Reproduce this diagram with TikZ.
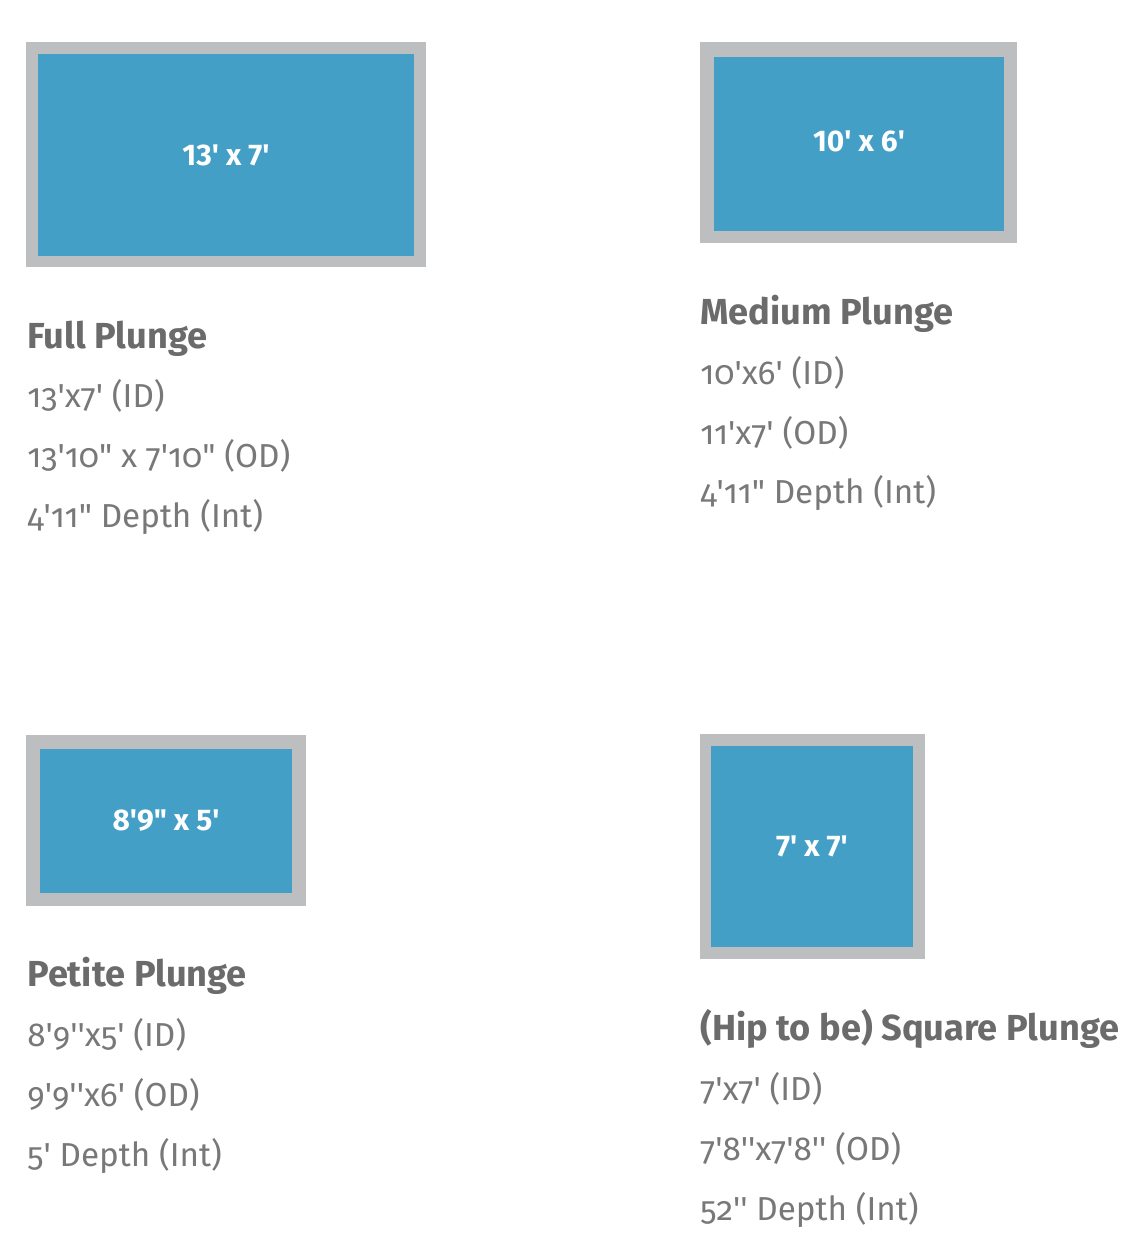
\documentclass[tikz,border=0pt]{standalone}
\usepackage{fontspec}
\setmainfont{Fira Sans}[Numbers=OldStyle]
\newfontfamily\tagfont{Fira Sans}
\usepackage{tikz}

\definecolor{poolblue}{HTML}{449FC7}
\definecolor{poolrim}{HTML}{BDBEC0}
\definecolor{headgray}{HTML}{6B6B6B}
\definecolor{textgray}{HTML}{787878}
\newcommand{\ftm}{\textquotesingle}
\newcommand{\inm}{\textquotedbl}

\tikzset{
  rim/.style={fill=poolrim},
  water/.style={fill=poolblue},
  tag/.style={text=white, inner sep=0, font=\tagfont\bfseries\fontsize{17}{19}\selectfont},
  title/.style={anchor=base west, inner sep=0, text=headgray, font=\bfseries\fontsize{20.6}{23}\selectfont},
  spec/.style={anchor=base west, inner sep=0, text=textgray, font=\fontsize{18.9}{22}\selectfont},
}

\begin{document}
\begin{tikzpicture}[x=0.02cm, y=-0.02cm]
\useasboundingbox[fill=white] (0,0) rectangle (1128,1251);

% pools
\fill[rim] (26,42) rectangle (426,267);
\fill[water] (38,54) rectangle (414,256);
\node[tag] (fullTag) at (226,155) {13\ftm{} x 7\ftm};

\fill[rim] (700,42) rectangle (1017,243);
\fill[water] (714,57) rectangle (1004,231);
\node[tag] (medTag) at (859,141) {10\ftm{} x 6\ftm};

\fill[rim] (26,735) rectangle (306,906);
\fill[water] (40,749) rectangle (292,893);
\node[tag] (petTag) at (166,821) {8\ftm9\inm{} x 5\ftm};

\fill[rim] (700,734) rectangle (925,959);
\fill[water] (711,746) rectangle (913,947);
\node[tag] (sqTag) at (812,846) {7\ftm{} x 7\ftm};

% specs
\node[title] (fullHead) at (27,348) {Full Plunge};
\node[spec] (fullId) at (27,407) {13\ftm x7\ftm{} (ID)};
\node[spec] (fullOd) at (27,467) {13\ftm10\inm{} x 7\ftm10\inm{} (OD)};
\node[spec] (fullDep) at (27,527) {4\ftm11\inm{} Depth (Int)};

\node[title] (medHead) at (700,324) {Medium Plunge};
\node[spec] (medId) at (700,384) {10\ftm x6\ftm{} (ID)};
\node[spec] (medOd) at (700,444) {11\ftm x7\ftm{} (OD)};
\node[spec] (medDep) at (700,503) {4\ftm11\inm{} Depth (Int)};

\node[title] (petHead) at (27,986) {Petite Plunge};
\node[spec] (petId) at (27,1046) {8\ftm9\ftm\ftm x5\ftm{} (ID)};
\node[spec] (petOd) at (27,1106) {9\ftm9\ftm\ftm x6\ftm{} (OD)};
\node[spec] (petDep) at (27,1166) {5\ftm{} Depth (Int)};

\node[title] (sqHead) at (700,1040) {(Hip to be) Square Plunge};
\node[spec] (sqId) at (700,1100) {7\ftm x7\ftm{} (ID)};
\node[spec] (sqOd) at (700,1160) {7\ftm8\ftm\ftm x7\ftm8\ftm\ftm{} (OD)};
\node[spec] (sqDep) at (700,1220) {52\ftm\ftm{} Depth (Int)};
\end{tikzpicture}
\end{document}
